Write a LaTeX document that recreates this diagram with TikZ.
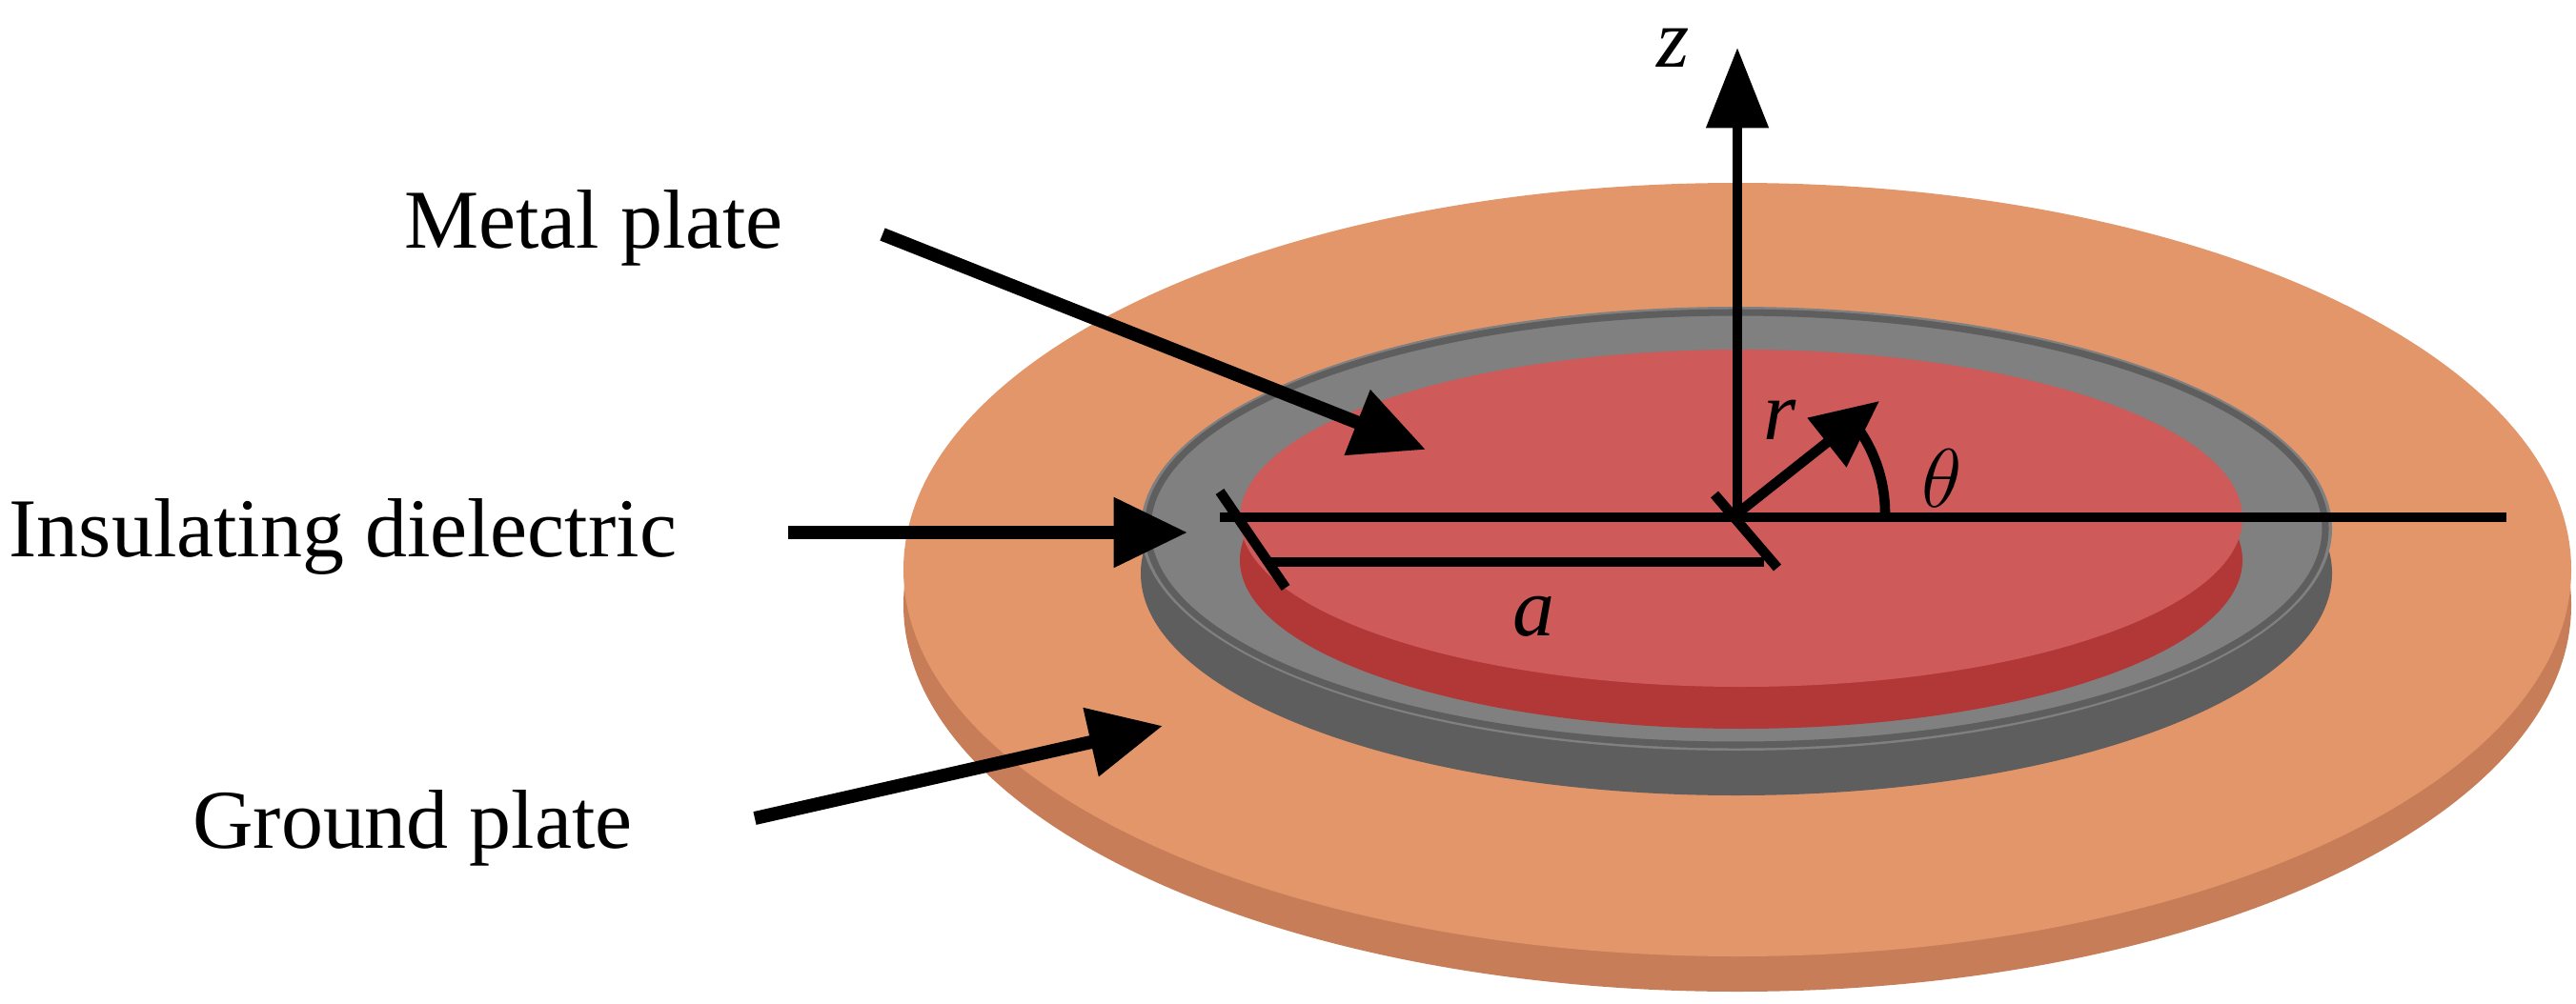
\documentclass[tikz,border=0pt]{standalone}
\usepackage{fontspec}
\setmainfont{Liberation Serif}
\usetikzlibrary{arrows.meta}
\definecolor{gnd}{HTML}{E3966A}
\definecolor{gndside}{HTML}{C77E58}
\definecolor{ins}{HTML}{808080}
\definecolor{insside}{HTML}{5E5E5E}
\definecolor{met}{HTML}{CE5A5A}
\definecolor{metside}{HTML}{B23838}
\tikzset{lbl/.style={font=\fontsize{25}{30}\selectfont,inner sep=0pt},
 pointer/.style={line width=4pt,-{Triangle[length=22pt,width=20pt]}},
 axis/.style={line width=3pt}}
\begin{document}
\begin{tikzpicture}[x=1cm,y=1cm]
\useasboundingbox (0,0) rectangle (27.03,10.53);
% ground plate
\fill[gndside] (18.23,10.53-6.35) ellipse (8.75 and 4.06);
\fill[gnd] (18.23,10.53-5.98) ellipse (8.75 and 4.06);
% insulating ring
\fill[insside] (18.22,10.53-6.02) ellipse (6.25 and 2.33);
\fill[ins] (18.22,10.53-5.55) ellipse (6.25 and 2.33);
\draw[insside,line width=2pt] (18.22,10.53-5.55) ellipse (6.18 and 2.27);
% metal plate
\fill[metside] (18.27,10.53-5.88) ellipse (5.26 and 1.77);
\fill[met] (18.27,10.53-5.44) ellipse (5.26 and 1.77);
% axes
\coordinate (O) at (18.23,10.53-5.39);
\coordinate (ztip) at (18.23,10.53-0.50);
\coordinate (xr) at (26.30,10.53-5.43);
\coordinate (xl) at (12.80,10.53-5.43);
\coordinate (al) at (13.32,10.53-5.90);
\coordinate (ar) at (18.51,10.53-5.90);
\coordinate (rtip) at (19.72,10.53-4.21);
\draw[axis,-{Triangle[length=24pt,width=18pt]}] (O) -- (ztip);
\node[lbl,font=\fontsize{25}{30}\selectfont\itshape] (zl) at (17.56,10.53-0.50) {z};
\draw[axis] (xl) -- (xr);
\draw[axis] (al) -- (ar);
\draw[axis] (12.80,10.53-5.16) -- (13.49,10.53-6.17);
\draw[axis] (17.99,10.53-5.19) -- (18.65,10.53-5.96);
\draw[axis,-{Triangle[length=20pt,width=18pt]}] (O) -- (rtip);
\draw[axis] ([shift={(0:1.55)}]O) arc[start angle=0,end angle=40,x radius=1.55,y radius=1.55];
\node[lbl,font=\fontsize{25}{30}\selectfont\itshape] (rl) at (18.68,10.53-4.41) {r};
\node[lbl,font=\fontsize{25}{30}\selectfont\itshape] (tl) at (20.38,10.53-5.02) {$\theta$};
\node[lbl,font=\fontsize{25}{30}\selectfont\itshape] (a) at (16.09,10.53-6.47) {a};
% labels
\node[lbl] (mp) at (6.23,10.53-2.39) {Metal plate};
\node[lbl,anchor=west] (id) at (0.09,10.53-5.63) {Insulating dielectric};
\node[lbl] (gp) at (4.33,10.53-8.69) {Ground plate};
\coordinate (mpe) at (14.96,10.53-4.72);
\coordinate (ide) at (12.46,10.53-5.59);
\coordinate (gpe) at (12.20,10.53-7.62);
\draw[pointer] (9.26,10.53-2.46) -- (mpe);
\draw[pointer] (8.27,10.53-5.59) -- (ide);
\draw[pointer] (7.92,10.53-8.59) -- (gpe);
\end{tikzpicture}
\end{document}
